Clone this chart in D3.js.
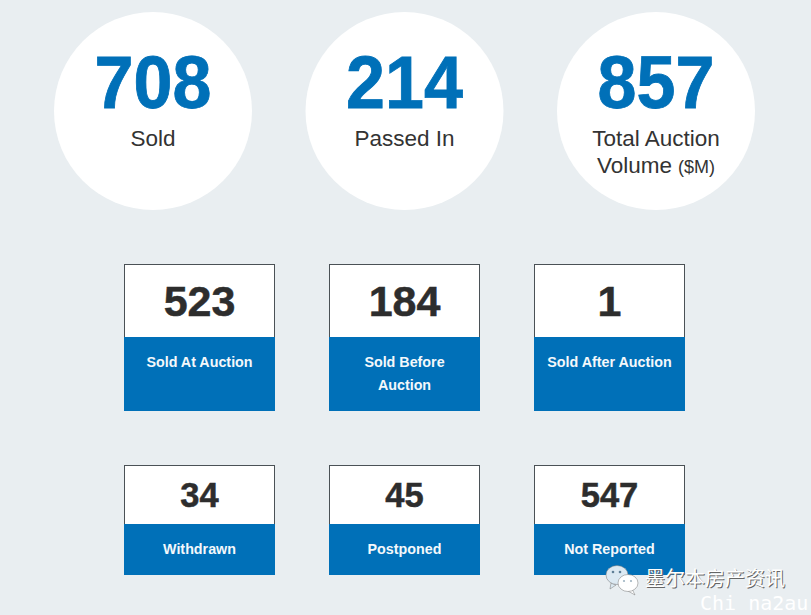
<!DOCTYPE html>
<html>
<head>
<meta charset="UTF-8">
<style>
  html, body { margin: 0; padding: 0; background: #e9eef1; }
  svg { display: block; }
  svg text { font-family: "Liberation Sans", Arial, sans-serif; text-anchor: middle; }
  .big { font-size: 70px; font-weight: bold; fill: #0070b8; stroke: #0070b8; stroke-width: .8; }
  .sub { font-size: 22.5px; fill: #333; }
  .sub tspan.unit { font-size: 18px; }
  .card-num { font-weight: bold; fill: #2d2d2d; stroke: #2d2d2d; stroke-width: .5; }
  .card-label { font-size: 14.3px; font-weight: bold; fill: #f4f8fb; }
  svg text.mark { font-family: "Noto Sans CJK SC", sans-serif; font-size: 20px; fill: #fff; text-anchor: start; }
  svg text.mark-shadow { font-family: "Noto Sans CJK SC", sans-serif; font-size: 20px; fill: #666; text-anchor: start; }
  svg text.mark2 { font-family: "DejaVu Sans Mono", monospace; font-size: 20px; fill: #fff; text-anchor: start; }
</style>
<script src="https://d3js.org/d3.v7.min.js"></script>
</head>
<body>
<svg></svg>
<script>
// headline circles
var topValues = [708, 214, 857];
var topLabels = [['Sold'], ['Passed In'], ['Total Auction', 'Volume']];

// first row of cards
var row1Values = [523, 184, 1];
var row1Labels = [['Sold At Auction'], ['Sold Before', 'Auction'], ['Sold After Auction']];

// second row of cards
var row2Values = [34, 45, 547];
var row2Labels = ['Withdrawn', 'Postponed', 'Not Reported'];

var width = 811, height = 615;
var blue = '#0070b8';

var svg = d3.select('svg').attr('width', width).attr('height', height);

// circles
var cx = d3.scalePoint().domain(d3.range(3)).range([153, 656]);

var circles = svg.selectAll('.circle')
  .data(topValues)
  .enter().append('g')
    .attr('class', 'circle')
    .attr('transform', function(d, i) { return 'translate(' + cx(i) + ',111)'; });

circles.append('circle').attr('r', 99).attr('fill', '#fff');
circles.append('text').attr('class', 'big')
  .attr('transform', 'translate(0,-3) scale(1,1.05)')
  .text(function(d) { return d; });

circles.each(function(d, i) {
  var lines = topLabels[i];
  lines.forEach(function(l, j) {
    var t = d3.select(this).append('text').attr('class', 'sub').attr('y', 35 + j * 27).text(l);
    if (l === 'Volume') t.append('tspan').attr('class', 'unit').attr('dx', 6).text('($M)');
  }, this);
});

// cards
var cardX = d3.scaleBand().domain(d3.range(3)).range([124, 685]).paddingInner(54 / 205);

function drawCards(values, labels, top, splitH, totalH, numSize, numY, labelY, lineH) {
  var card = svg.selectAll(null)
    .data(values)
    .enter().append('g')
      .attr('transform', function(d, i) { return 'translate(' + cardX(i) + ',' + top + ')'; });

  var w = cardX.bandwidth();
  card.append('rect')
    .attr('x', .5).attr('y', .5)
    .attr('width', w - 1).attr('height', splitH)
    .attr('fill', '#fff').attr('stroke', '#4a5156');
  card.append('rect')
    .attr('y', splitH).attr('width', w).attr('height', totalH - splitH)
    .attr('fill', blue);
  card.append('text')
    .attr('class', 'card-num')
    .attr('x', w / 2).attr('y', numY)
    .style('font-size', numSize + 'px')
    .text(function(d) { return d; });

  card.each(function(d, i) {
    [].concat(labels[i]).forEach(function(l, j) {
      d3.select(this).append('text')
        .attr('class', 'card-label')
        .attr('x', w / 2).attr('y', labelY + j * lineH)
        .text(l);
    }, this);
  });
}

drawCards(row1Values, row1Labels, 264, 73, 147, 43, 52, 103, 23);
drawCards(row2Values, row2Labels, 465, 59, 110, 34.5, 42, 89, 23);

// watermark
var wm = svg.append('g').attr('transform', 'translate(617,575)');
wm.append('path').attr('d', 'M-6 8 L-7 14 L-1 10 Z').attr('fill', '#dce9f2').attr('stroke', '#777').attr('stroke-width', .5);
wm.append('ellipse').attr('rx', 11).attr('ry', 9.5).attr('fill', '#dce9f2').attr('stroke', '#777').attr('stroke-width', .5);
wm.append('path').attr('d', 'M15 14 L18 20 L11 16 Z').attr('fill', '#fff').attr('stroke', '#777').attr('stroke-width', .5);
wm.append('ellipse').attr('cx', 11).attr('cy', 8).attr('rx', 10).attr('ry', 8.5).attr('fill', '#fff').attr('stroke', '#777').attr('stroke-width', .5);
[[-4, -3], [3, -3]].forEach(function(p) {
  wm.append('circle').attr('cx', p[0]).attr('cy', p[1]).attr('r', 1.3).attr('fill', '#5f7f96');
});
[[7, 6], [14, 6]].forEach(function(p) {
  wm.append('circle').attr('cx', p[0]).attr('cy', p[1]).attr('r', 1.1).attr('fill', '#9fb4c2');
});
svg.append('text').attr('class', 'mark-shadow').attr('x', 646).attr('y', 587).text('墨尔本房产资讯');
svg.append('text').attr('class', 'mark').attr('x', 645).attr('y', 586).text('墨尔本房产资讯');
svg.append('text').attr('class', 'mark2').attr('x', 700).attr('y', 610).text('Chi na2au');
</script>
</body>
</html>
